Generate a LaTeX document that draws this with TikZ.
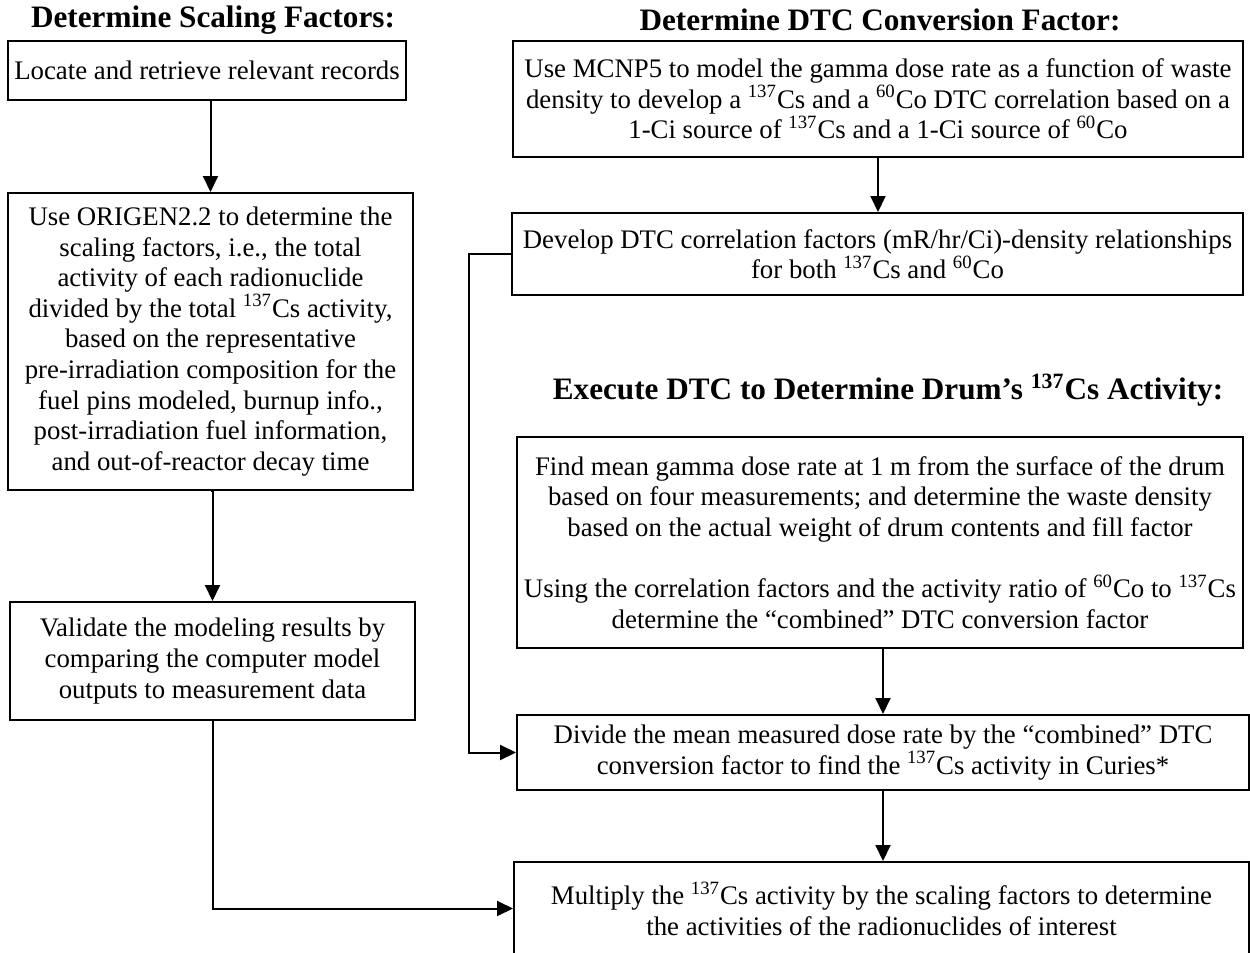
\documentclass[tikz,border=0pt]{standalone}
\usepackage{fontspec}
\setmainfont{Liberation Serif}
\usetikzlibrary{arrows.meta}
\newcommand{\iso}[2]{\textsuperscript{#1}#2}
\begin{document}
\begin{tikzpicture}[x=0.5pt,y=-0.5pt,
  box/.style={draw, line width=1pt, rectangle, inner sep=0pt, align=center,
    font=\fontsize{13.4}{15.3}\selectfont},
  ttl/.style={font=\fontsize{15.6}{18}\selectfont\bfseries, inner sep=0pt},
  arr/.style={draw, line width=1pt, -{Triangle[length=8pt,width=7.5pt]}}]
\useasboundingbox (0,0) rectangle (1250,953);

% titles
\node[ttl] (t1) at (213,20) {Determine Scaling Factors:};
\node[ttl] (t2) at (880,20) {Determine DTC Conversion Factor:};
\node[ttl] (t3) at (888,390) {Execute DTC to Determine Drum’s \iso{137}{Cs} Activity:};

% left column
\node[box, minimum width=199pt, minimum height=29.5pt] (L1) at (207,70.5)
  {Locate and retrieve relevant records};
\node[box, minimum width=202.5pt, minimum height=148.5pt] (L2) at (210.5,341.5)
  {Use ORIGEN2.2 to determine the\\
   scaling factors, i.e., the total\\
   activity of each radionuclide\\
   divided by the total \iso{137}{Cs} activity,\\
   based on the representative\\
   pre-irradiation composition for the\\
   fuel pins modeled, burnup info.,\\
   post-irradiation fuel information,\\
   and out-of-reactor decay time};
\node[box, minimum width=202.5pt, minimum height=59pt] (L3) at (212.5,661)
  {Validate the modeling results by\\
   comparing the computer model\\
   outputs to measurement data};

% right column
\node[box, minimum width=365pt, minimum height=58pt] (R1) at (878,99)
  {Use MCNP5 to model the gamma dose rate as a function of waste\\
   density to develop a \iso{137}{Cs} and a \iso{60}{Co} DTC correlation based on a\\
   1-Ci source of \iso{137}{Cs} and a 1-Ci source of \iso{60}{Co}};
\node[box, minimum width=365.5pt, minimum height=41pt] (R2) at (877.5,254)
  {Develop DTC correlation factors (mR/hr/Ci)-density relationships\\
   for both \iso{137}{Cs} and \iso{60}{Co}};
\node[box, minimum width=363pt, minimum height=105.5pt] (R3) at (880,542.5)
  {Find mean gamma dose rate at 1 m from the surface of the drum\\
   based on four measurements; and determine the waste density\\
   based on the actual weight of drum contents and fill factor\\[15.3pt]
   Using the correlation factors and the activity ratio of \iso{60}{Co} to \iso{137}{Cs}\\
   determine the “combined” DTC conversion factor};
\node[box, minimum width=366pt, minimum height=37.5pt] (R4) at (883,752.5)
  {Divide the mean measured dose rate by the “combined” DTC\\
   conversion factor to find the \iso{137}{Cs} activity in Curies*};
\node[box, minimum width=367.5pt, minimum height=46.5pt] (R5) at (881.5,908.5)
  {Multiply the \iso{137}{Cs} activity by the scaling factors to determine\\
   the activities of the radionuclides of interest};

\coordinate (bend) at (469,254);

% connectors
\draw[arr] (L1.south -| L2.north) -- (L2.north);
\draw[arr] (L2.south) -- (L2.south -| L3.north) -- (L3.north);
\draw[arr] (L3.south) |- (R5.west);
\draw[arr] (R1.south) -- (R1.south |- R2.north);
\draw[arr] (R2.west) -- (bend) |- (R4.west);
\draw[arr] (R4.north |- R3.south) -- (R4.north);
\draw[arr] (R4.south) -- (R4.south |- R5.north);
\end{tikzpicture}
\end{document}
